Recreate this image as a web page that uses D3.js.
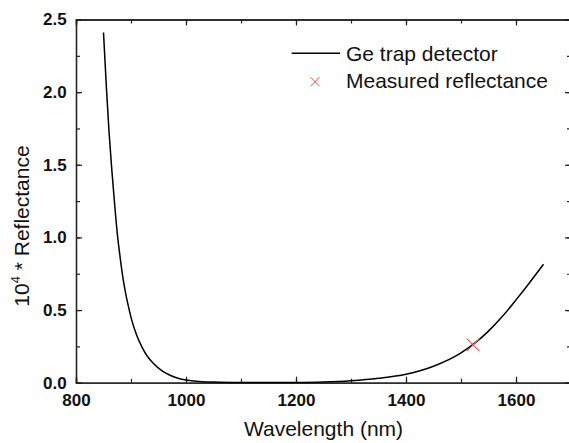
<!DOCTYPE html>
<html><head><meta charset="utf-8">
<script src="https://cdn.jsdelivr.net/npm/d3@7"></script>
<style>body{margin:0;background:#fff}svg{display:block}</style>
</head><body>
<script>
// Data
const wavelength = [850,855,860,865,870,875,880,885,890,895,900,910,920,930,940,950,960,970,980,990,1000,1025,1050,1100,1150,1200,1250,1300,1350,1400,1450,1500,1525,1550,1575,1600,1625,1650];
const reflectance = [2.41,2.05,1.73,1.47,1.24,1.03,0.87,0.73,0.62,0.53,0.45,0.33,0.245,0.18,0.135,0.10,0.073,0.053,0.037,0.026,0.018,0.008,0.004,0.001,0.0006,0.001,0.004,0.013,0.030,0.058,0.113,0.205,0.272,0.355,0.455,0.57,0.69,0.815];
const measuredWavelength = [1522];
const measuredReflectance = [0.26];
const xTicks = [800,1000,1200,1400,1600];
const yTicks = [0.0,0.5,1.0,1.5,2.0,2.5];
const seriesNames = ["Ge trap detector","Measured reflectance"];

const W=569,H=443;
const L=76,R=571,T=19.5,B=382.7;
const svg=d3.select("body").append("svg").attr("width",W).attr("height",H);
const x=d3.scaleLinear().domain([800,1700]).range([L,R]);
const y=d3.scaleLinear().domain([0,2.5]).range([B,T]);
const font="'Liberation Sans', Arial, sans-serif";
const xMinor=d3.range(800,1701,100), yMinor=d3.range(0,2.51,0.25);

function style(g){g.select(".domain").attr("stroke","#222").attr("stroke-width",1.3);
  g.selectAll(".tick line").attr("stroke","#222").attr("stroke-width",1.2);
  g.selectAll("text").attr("font-family",font).attr("font-weight","bold").attr("font-size",17).attr("fill","#111");}

// minor ticks
svg.append("g").attr("transform",`translate(0,${B})`).call(d3.axisBottom(x).tickValues(xMinor).tickSize(-4).tickFormat("")).call(style);
svg.append("g").attr("transform",`translate(0,${T})`).call(d3.axisTop(x).tickValues(xMinor).tickSize(-4).tickFormat("")).call(style);
svg.append("g").attr("transform",`translate(${L},0)`).call(d3.axisLeft(y).tickValues(yMinor).tickSize(-4).tickFormat("")).call(style);
svg.append("g").attr("transform",`translate(${R},0)`).call(d3.axisRight(y).tickValues(yMinor).tickSize(-4).tickFormat("")).call(style);
// major ticks
svg.append("g").attr("transform",`translate(0,${B})`).call(d3.axisBottom(x).tickValues(xTicks).tickSize(-6).tickPadding(11).tickFormat(d3.format("d"))).call(style);
svg.append("g").attr("transform",`translate(0,${T})`).call(d3.axisTop(x).tickValues(xTicks).tickSize(-6).tickFormat("")).call(style);
svg.append("g").attr("transform",`translate(${L},0)`).call(d3.axisLeft(y).tickValues(yTicks).tickSize(-6).tickPadding(9.3).tickFormat(d3.format(".1f"))).call(style);
svg.append("g").attr("transform",`translate(${R},0)`).call(d3.axisRight(y).tickValues(yTicks).tickSize(-6).tickFormat("")).call(style);

// curve
const pts=wavelength.map((w,i)=>[w,reflectance[i]]);
svg.append("path").datum(pts).attr("fill","none").attr("stroke","#000").attr("stroke-width",1.5)
  .attr("d",d3.line().x(d=>x(d[0])).y(d=>y(d[1])).curve(d3.curveMonotoneX));

// measured marker
const cross=(cx,cy,s)=>`M${cx-s},${cy-s}L${cx+s},${cy+s}M${cx-s},${cy+s}L${cx+s},${cy-s}`;
svg.selectAll(".meas").data(measuredWavelength).enter().append("path")
  .attr("d",(d,i)=>cross(x(d),y(measuredReflectance[i]),6.3))
  .attr("stroke","#ff4a4a").attr("stroke-width",1.1).attr("fill","none");

// legend
svg.append("line").attr("x1",291.7).attr("x2",340).attr("y1",53.3).attr("y2",53.3).attr("stroke","#000").attr("stroke-width",1.5);
svg.append("path").attr("d",cross(315,81.7,4.5)).attr("stroke","#ff4a4a").attr("stroke-width",1).attr("fill","none");
svg.append("text").attr("x",346).attr("y",60.7).text(seriesNames[0]).attr("font-family",font).attr("font-size",21).attr("fill","#111");
svg.append("text").attr("x",346).attr("y",88).text(seriesNames[1]).attr("font-family",font).attr("font-size",21).attr("fill","#111");

// axis titles
svg.append("text").attr("x",(L+R)/2).attr("y",436).attr("text-anchor","middle").text("Wavelength (nm)")
  .attr("font-family",font).attr("font-size",21).attr("fill","#111");
const yt=svg.append("text").attr("transform","translate(29,226) rotate(-90)").attr("text-anchor","middle")
  .attr("font-family",font).attr("font-size",21).attr("fill","#111");
yt.append("tspan").text("10");
yt.append("tspan").text("4").attr("font-size",13).attr("dy",-9);
yt.append("tspan").text(" * Reflectance").attr("dy",9);
</script>
</body></html>
